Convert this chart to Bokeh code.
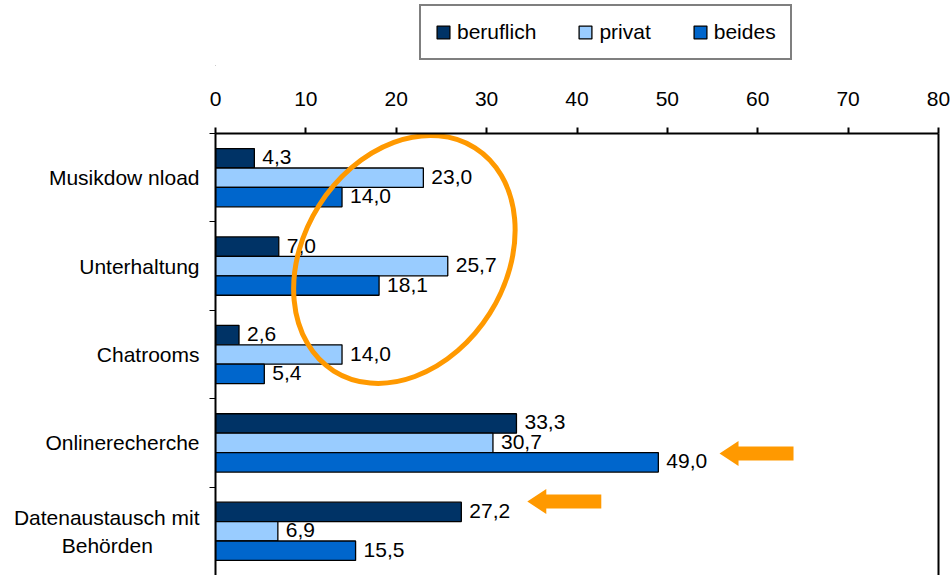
from bokeh.plotting import figure
from bokeh.layouts import column
from bokeh.models import (Range1d, LinearAxis, FixedTicker, ColumnDataSource,
                          Legend, LegendItem)
from bokeh.embed import file_html
from bokeh.resources import INLINE
from bokeh.core.properties import value
import math

# ---- data ----
NB = "\u00a0"
categories = ["Musikdow nload", "Unterhaltung", "Chatrooms", "Onlinerecherche",
              "Datenaustausch mit\nBehörden" + NB * 8]
series = ["beruflich", "privat", "beides"]
beruflich = [4.3, 7.0, 2.6, 33.3, 27.2]
privat = [23.0, 25.7, 14.0, 30.7, 6.9]
beides = [14.0, 18.1, 5.4, 49.0, 15.5]
x_ticks = [0, 10, 20, 30, 40, 50, 60, 70, 80]

colors = ["#003366", "#99CCFF", "#0066CC"]
ORANGE = "#FF9900"
FONT = "Liberation Sans"
FS = "21px"

W, H = 952, 575
TOP_H = 66
ML, MR, MT = 215, 14, 133 - TOP_H
MAIN_H = H - TOP_H
FW, FH = W - ML - MR, MAIN_H - MT
XMAX, NCAT = 80, len(categories)

# ---------- legend strip ----------
lg = figure(width=W, height=TOP_H, x_range=Range1d(0, 1), y_range=Range1d(0, 1),
            output_backend="svg", toolbar_location=None, x_axis_location=None,
            y_axis_location=None, min_border_left=ML, min_border_right=MR,
            min_border_top=0, min_border_bottom=0)
lg.outline_line_color = None
lg.outline_line_alpha = 0
lg.xgrid.visible = False
lg.ygrid.visible = False
lg.background_fill_color = "white"
lg.border_fill_color = "white"
dummy = []
for k in range(3):
    dummy.append(lg.hbar(y=[-50], left=[-50], right=[-49], height=0.5, fill_color=colors[k],
                         line_color="black", line_width=1.3))
legend = Legend(items=[LegendItem(label=s, renderers=[r]) for s, r in zip(series, dummy)],
                orientation="horizontal", location=(204, 6))
legend.border_line_color = "black"
legend.border_line_width = 2
legend.background_fill_color = "white"
legend.background_fill_alpha = 1
legend.label_text_font = FONT
legend.label_text_font_size = FS
legend.label_text_color = "black"
legend.glyph_width = 16
legend.glyph_height = 16
legend.label_height = 16
legend.label_standoff = 6
legend.spacing = 41
legend.padding = 14
legend.margin = 0
lg.add_layout(legend, "center")

# ---------- main chart ----------
p = figure(width=W, height=MAIN_H, x_range=Range1d(0, XMAX), y_range=Range1d(NCAT, 0),
           output_backend="svg", toolbar_location=None, x_axis_location="above",
           min_border_left=ML, min_border_right=MR, min_border_top=MT,
           min_border_bottom=0)
p.outline_line_color = None
p.xgrid.visible = False
p.ygrid.visible = False
p.background_fill_color = "white"
p.border_fill_color = "white"

# top axis
xa = p.xaxis[0]
xa.ticker = FixedTicker(ticks=x_ticks, minor_ticks=[])
xa.major_tick_out = 6
xa.major_tick_in = 0
xa.axis_line_width = 2
xa.major_tick_line_width = 2
xa.major_label_text_font = FONT
xa.major_label_text_font_size = FS
xa.major_label_text_color = "black"
xa.major_label_standoff = 22

# left axis
ya = p.yaxis[0]
centers = [i + 0.5 for i in range(NCAT)]
ya.ticker = FixedTicker(ticks=centers, minor_ticks=list(range(NCAT + 1)))
ya.major_label_overrides = {c: lab for c, lab in zip(centers, categories)}
ya.major_tick_out = 0
ya.major_tick_in = 0
ya.minor_tick_out = 6
ya.minor_tick_in = 0
ya.minor_tick_line_width = 1
ya.axis_line_width = 2
ya.major_label_text_font = FONT
ya.major_label_text_font_size = FS
ya.major_label_text_color = "black"
ya.major_label_standoff = 10

# right border
ra = LinearAxis(ticker=FixedTicker(ticks=[], minor_ticks=[]), axis_line_width=2,
                major_tick_out=0, major_tick_in=0, minor_tick_out=0,
                major_label_text_font_size="0px")
p.add_layout(ra, "right")

# bars
bar_h = 0.22
for k, (name, vals) in enumerate(zip(series, [beruflich, privat, beides])):
    ys = [c + (k - 1) * bar_h for c in centers]
    src = ColumnDataSource(dict(y=ys, v=vals,
                                lab=[f"{v:.1f}".replace(".", ",") for v in vals]))
    p.hbar(y="y", left=0, right="v", height=bar_h, source=src,
           fill_color=colors[k], line_color="black", line_width=1.3)
    p.text(x="v", y="y", text="lab", source=src, x_offset=8, y_offset=-1,
           text_baseline="middle", text_align="left", text_font=value(FONT),
           text_font_size=FS, text_color="black")

# ellipse annotation
p.ellipse(x=[20.9], y=[1.425], width=[264], height=[202], angle=[math.radians(57.7)],
          width_units="screen", height_units="screen",
          fill_color=None, line_color=ORANGE, line_width=5)

# arrows (block arrows pointing left)
dx = XMAX / FW
dy = NCAT / FH
def arrow(x_tip, y_tip, L=74, hl=19, hh=12.5, sh=7):
    pts = [(0, 0), (hl, -hh), (hl, -sh), (L, -sh), (L, sh), (hl, sh), (hl, hh)]
    return [x_tip + a * dx for a, b in pts], [y_tip + b * dy for a, b in pts]

ax1, ay1 = arrow(55.77, 3.62)
ax2, ay2 = arrow(34.5, 4.163)
p.patches(xs=[ax1, ax2], ys=[ay1, ay2], fill_color=ORANGE, line_color=None)

layout = column(lg, p, spacing=0)
open("out.html", "w").write(file_html(layout, INLINE))
